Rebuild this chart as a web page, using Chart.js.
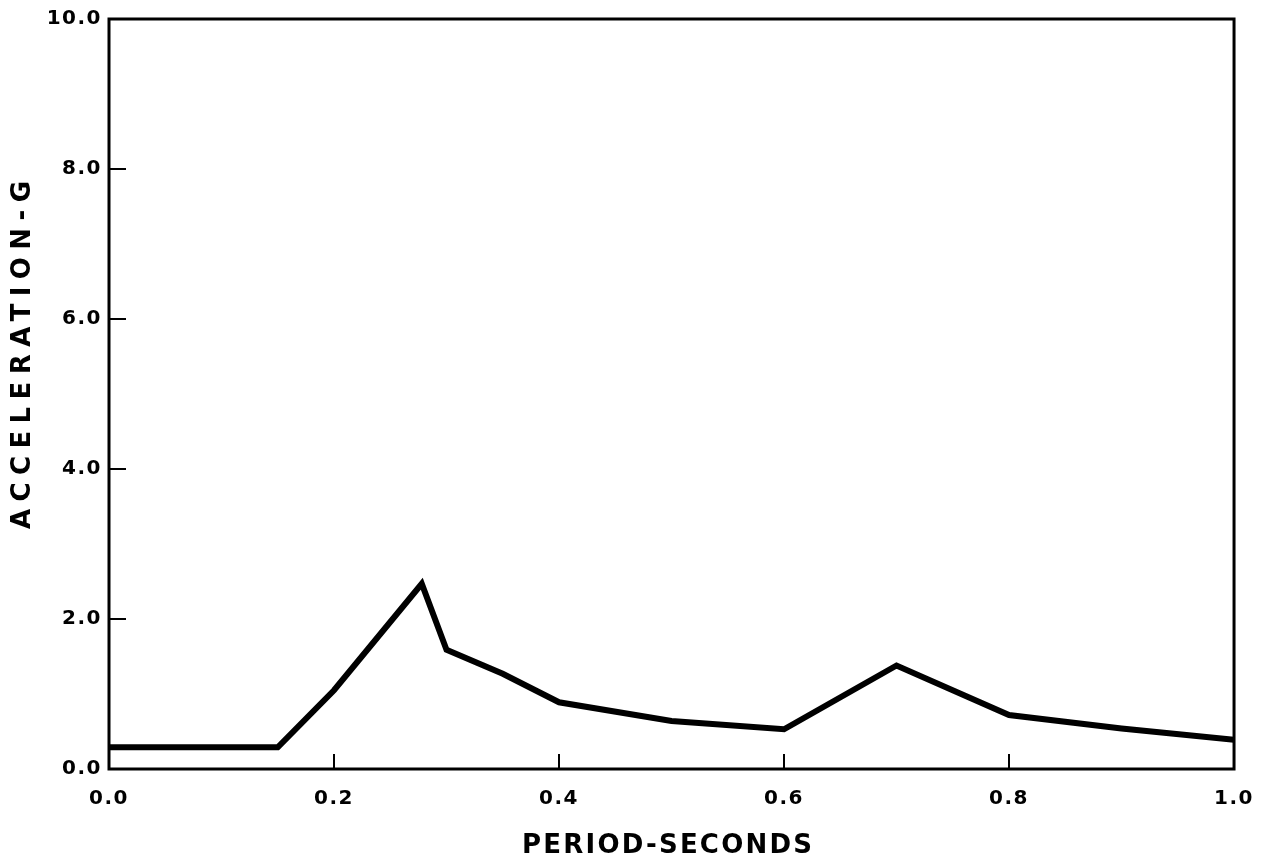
<!DOCTYPE html>
<html>
<head>
<meta charset="utf-8">
<title>Acceleration - Period</title>
<script src="https://cdn.jsdelivr.net/npm/chart.js@4.4.1/dist/chart.umd.min.js"></script>
<style>
    html, body { margin: 0; padding: 0; background: #ffffff; }
    #grafica-wrap { width: 1272px; height: 864px; }
</style>
</head>
<body>
<div id="grafica-wrap">
    <canvas id="espectro-chart" width="1272" height="864"></canvas>
</div>
<script>
// Datos
const periodos = [0.0, 0.15, 0.2, 0.278, 0.3, 0.35, 0.4, 0.5, 0.6, 0.7, 0.8, 0.9, 1.0];
const aceleraciones = [0.29, 0.29, 1.05, 2.47, 1.59, 1.27, 0.89, 0.64, 0.53, 1.38, 0.72, 0.54, 0.39];

// Marcas de los ejes
const ticksX = [0.0, 0.2, 0.4, 0.6, 0.8, 1.0];
const ticksY = [0.0, 2.0, 4.0, 6.0, 8.0, 10.0];

const tituloX = 'PERIOD-SECONDS';
const tituloY = 'ACCELERATION-G';

const fuente = '"DejaVu Sans", "Liberation Sans", sans-serif';

document.addEventListener('DOMContentLoaded', () => {
    const canvas = document.getElementById('espectro-chart');
    const ctx = canvas.getContext('2d');

    // Espaciado de letras para imitar el rotulado original
    const espaciado = {
        id: 'espaciado',
        beforeUpdate(chart) { chart.ctx.letterSpacing = '1.5px'; },
        beforeDraw(chart) { chart.ctx.letterSpacing = '1.5px'; }
    };

    // Marco, marcas hacia dentro y titulos de los ejes
    const marco = {
        id: 'marco',
        afterDraw(chart) {
            const c = chart.ctx;
            const area = chart.chartArea;
            const sx = chart.scales.x;
            const sy = chart.scales.y;
            c.save();
            c.strokeStyle = '#000';
            c.lineWidth = 3;
            c.strokeRect(area.left, area.top, area.right - area.left, area.bottom - area.top);

            c.lineWidth = 2;
            c.beginPath();
            ticksY.slice(1, -1).forEach(v => {
                const y = Math.round(sy.getPixelForValue(v));
                c.moveTo(area.left, y);
                c.lineTo(area.left + 17, y);
            });
            ticksX.slice(1, -1).forEach(v => {
                const x = Math.round(sx.getPixelForValue(v));
                c.moveTo(x, area.bottom);
                c.lineTo(x, area.bottom - 15);
            });
            c.stroke();

            c.fillStyle = '#000';
            c.textAlign = 'center';
            c.textBaseline = 'middle';
            c.font = 'bold 26px ' + fuente;

            c.letterSpacing = '2.2px';
            c.fillText(tituloX, 667 + 1.1, 846);

            c.letterSpacing = '7.4px';
            c.translate(23, 355);
            c.rotate(-Math.PI / 2);
            c.fillText(tituloY, 3.7, 0);
            c.restore();
        }
    };

    new Chart(ctx, {
        type: 'line',
        data: {
            datasets: [{
                label: 'Aceleracion',
                data: periodos.map((p, i) => ({ x: p, y: aceleraciones[i] })),
                borderColor: '#000',
                borderWidth: 6,
                borderJoinStyle: 'miter',
                pointRadius: 0,
                tension: 0,
                fill: false
            }]
        },
        options: {
            responsive: false,
            animation: false,
            devicePixelRatio: 1,
            layout: {
                padding: { top: 16, right: 36, left: 0, bottom: 0 }
            },
            plugins: {
                legend: { display: false },
                tooltip: { enabled: false }
            },
            scales: {
                x: {
                    type: 'linear',
                    min: 0,
                    max: 1,
                    afterBuildTicks: scale => { scale.ticks = ticksX.map(v => ({ value: v })); },
                    afterFit: scale => { scale.height = 95; },
                    grid: { display: false, drawTicks: false },
                    border: { display: false },
                    ticks: {
                        color: '#000',
                        padding: 18,
                        maxRotation: 0,
                        font: { family: fuente, size: 20, weight: 'bold' },
                        callback: v => Number(v).toFixed(1)
                    }
                },
                y: {
                    type: 'linear',
                    min: 0,
                    max: 10,
                    afterBuildTicks: scale => { scale.ticks = ticksY.map(v => ({ value: v })); },
                    afterFit: scale => { scale.width = 109; },
                    grid: { display: false, drawTicks: false },
                    border: { display: false },
                    ticks: {
                        color: '#000',
                        padding: 7,
                        font: { family: fuente, size: 20, weight: 'bold' },
                        callback: v => Number(v).toFixed(1)
                    }
                }
            }
        },
        plugins: [espaciado, marco]
    });
});
</script>
</body>
</html>
